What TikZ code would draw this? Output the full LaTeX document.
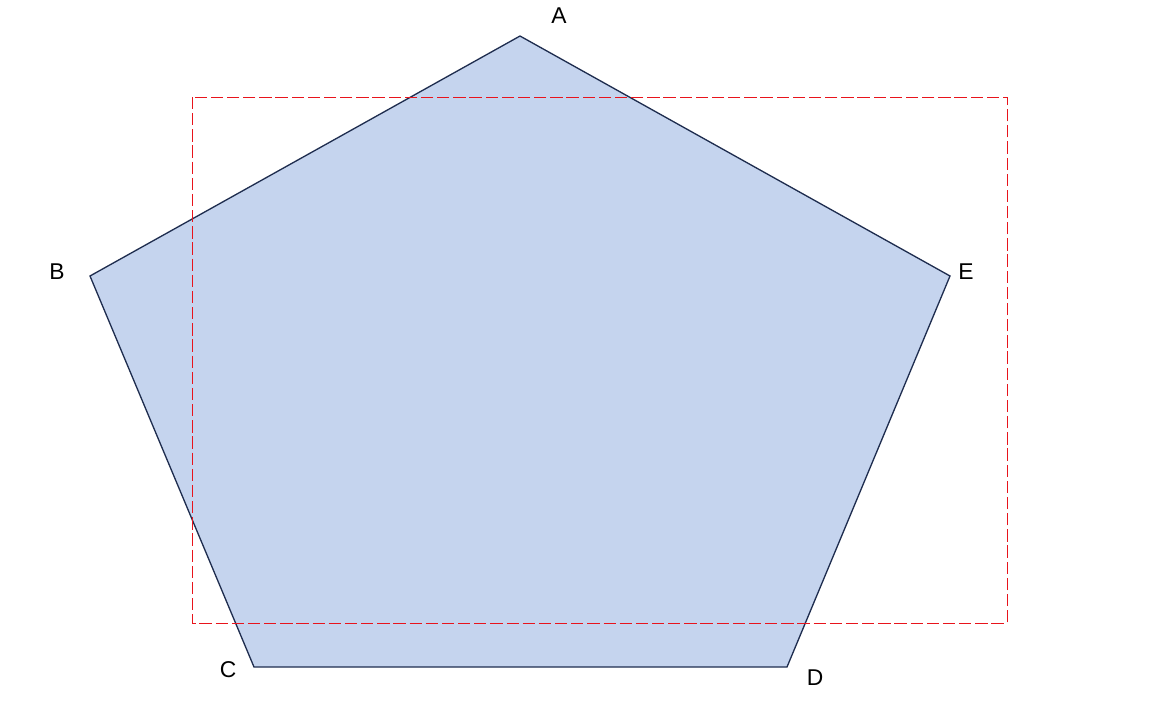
\documentclass[tikz,border=0pt]{standalone}
\usepackage{fontspec}
\setmainfont{Liberation Sans}
\usepackage{xcolor}
\usepackage{tikz}
\usetikzlibrary{positioning}

\definecolor{relleno}{HTML}{C5D4EE}
\definecolor{borde}{HTML}{1F2D4F}
\definecolor{marco}{HTML}{E8141C}

\begin{document}
\begin{tikzpicture}[
  x=0.02cm,y=-0.02cm,
  vertice/.style={font=\fontsize{13}{15}\selectfont,inner sep=0pt},
  pent/.style={fill=relleno,draw=borde,line width=0.75pt,line join=miter},
  caja/.style={draw=marco,line width=0.55pt,dash pattern=on 7pt off 2.2pt}
]
  \useasboundingbox (0,0) rectangle (1157,704);
  \coordinate (A) at (520,36);
  \coordinate (B) at (90,276);
  \coordinate (C) at (254,667);
  \coordinate (D) at (787,667);
  \coordinate (E) at (950,276);
  \filldraw[pent] (A)--(B)--(C)--(D)--(E)--cycle;
  \coordinate (r1) at (192,97);
  \coordinate (r2) at (1007,623);
  \draw[caja] (r1) rectangle (r2);
  \node[vertice] (lA) at (559,16)  {A};
  \node[vertice] (lB) at (57,272)  {B};
  \node[vertice] (lC) at (228,670) {C};
  \node[vertice] (lD) at (815,678) {D};
  \node[vertice] (lE) at (966,272) {E};
\end{tikzpicture}
\end{document}
